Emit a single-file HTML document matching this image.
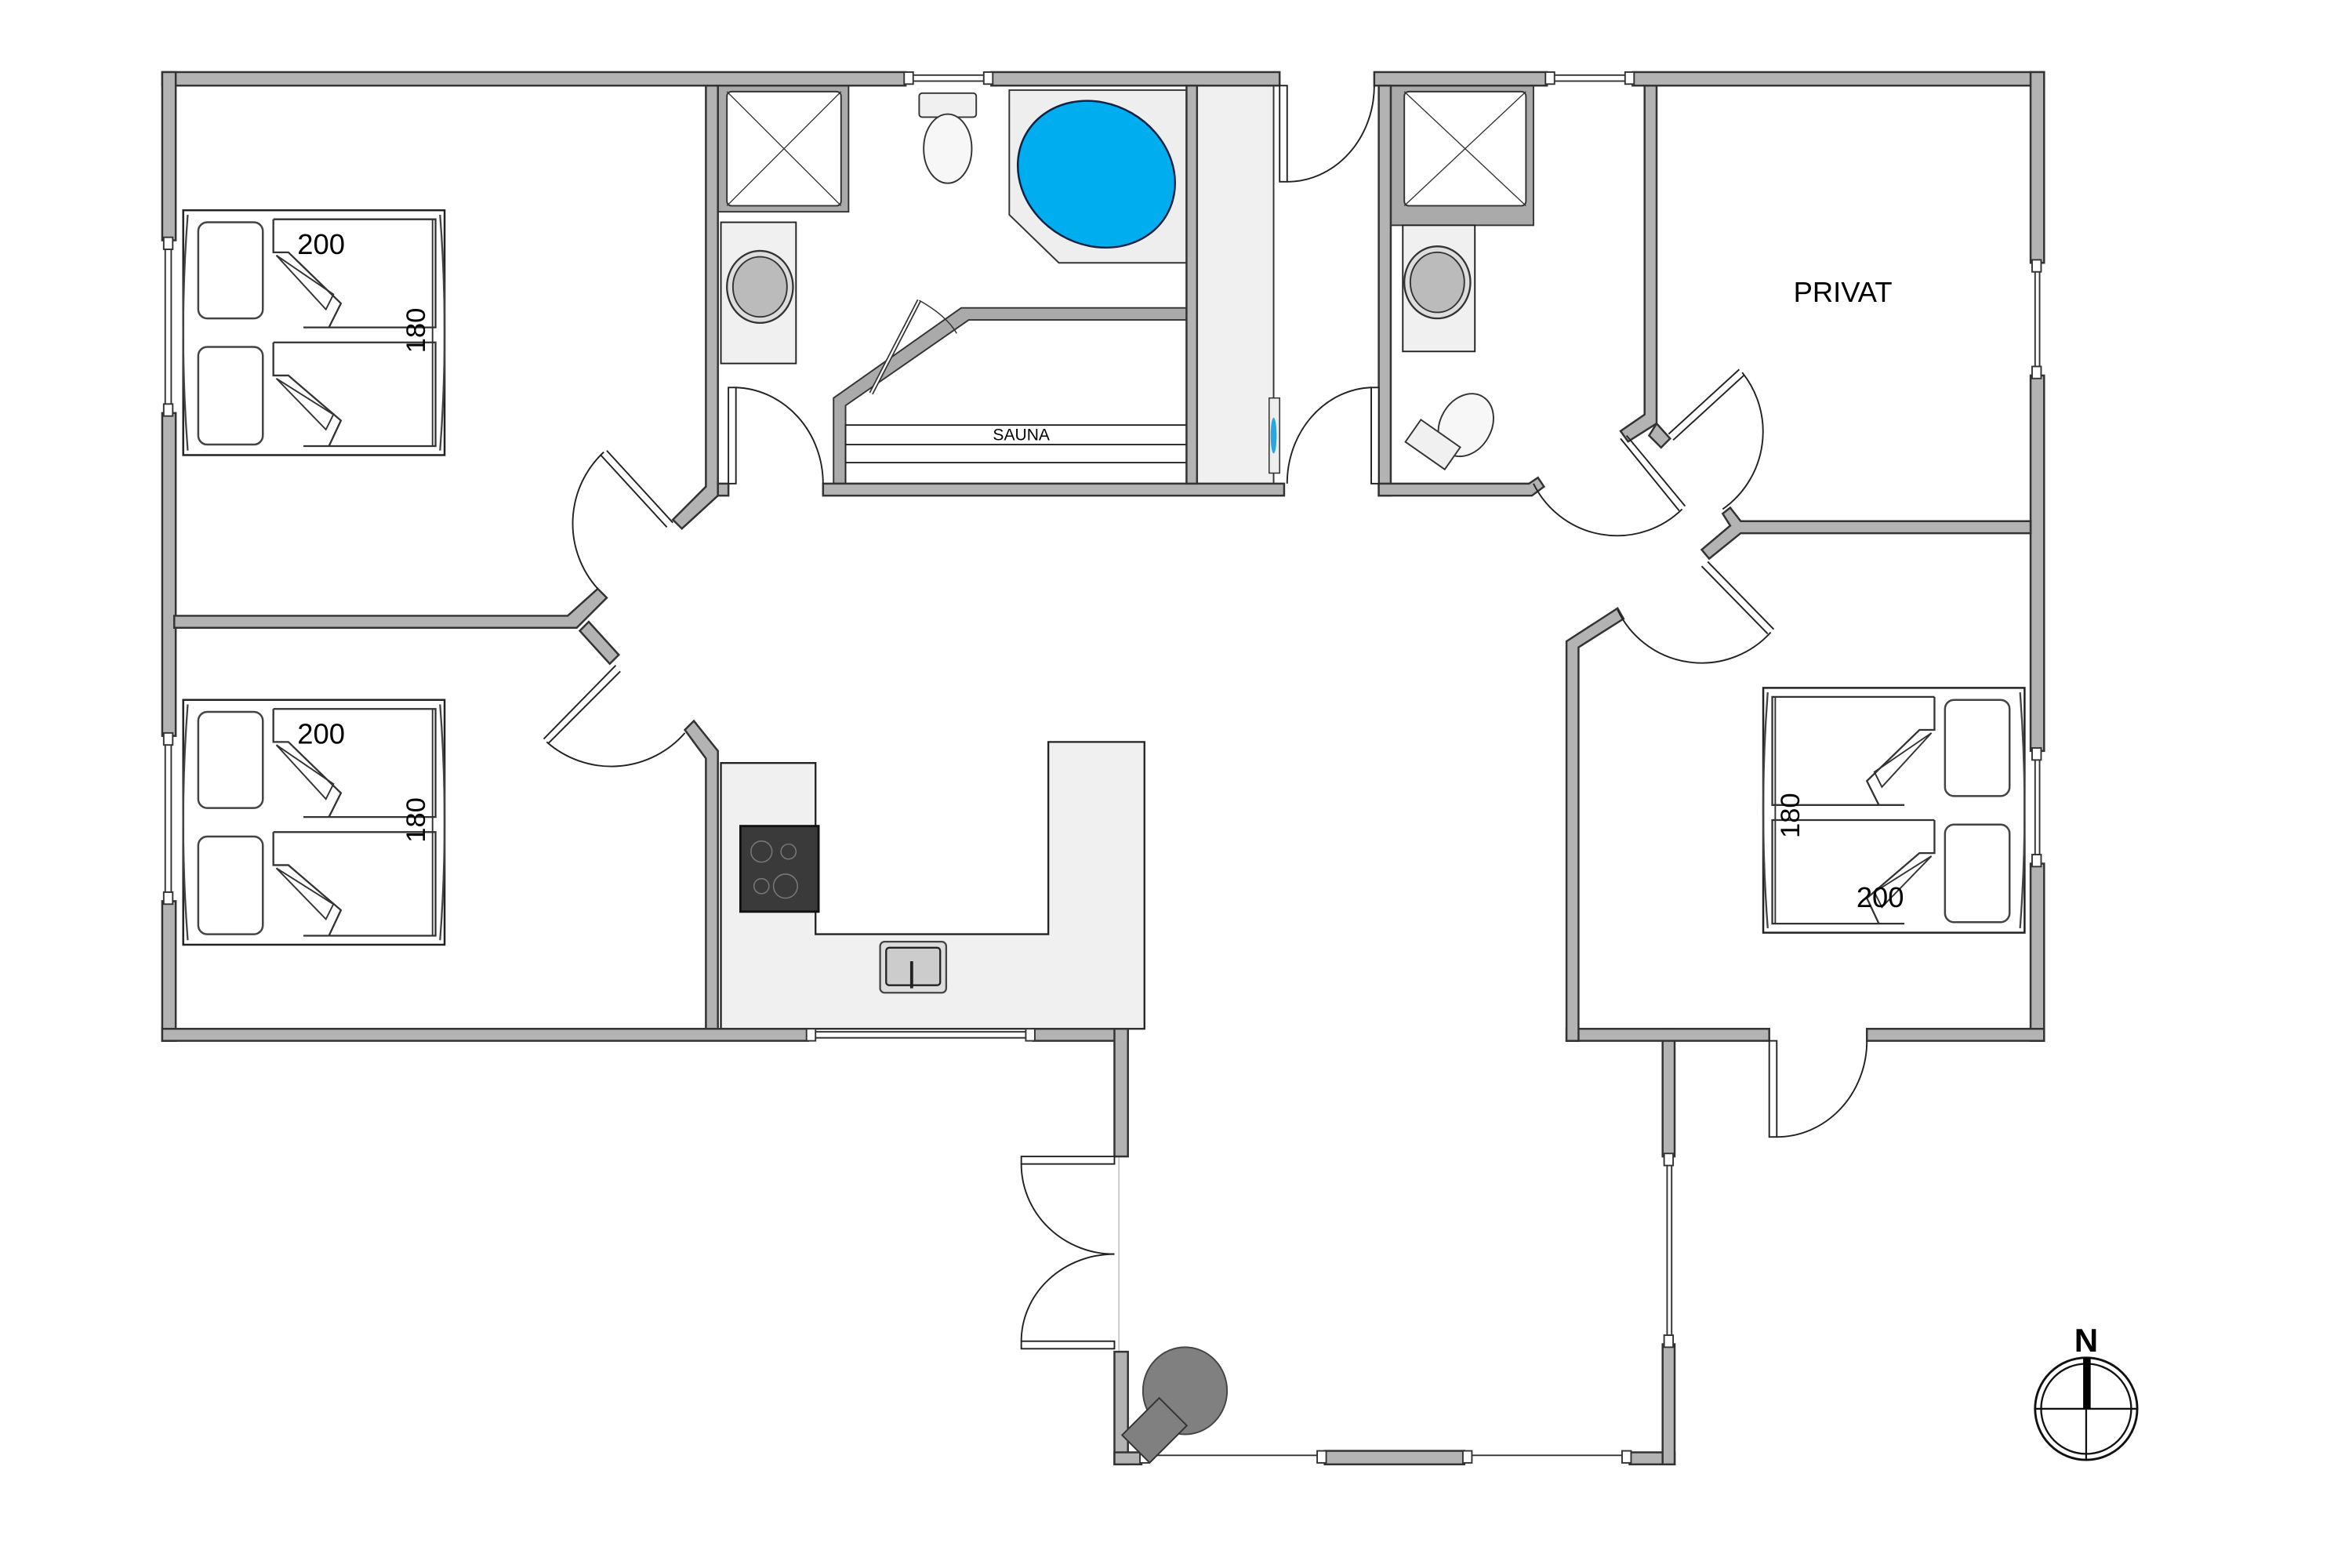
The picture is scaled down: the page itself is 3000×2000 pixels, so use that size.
<!DOCTYPE html>
<html><head><meta charset="utf-8"><style>
html,body{margin:0;padding:0;background:#fff;}
svg{display:block;}
text{font-family:"Liberation Sans",sans-serif;}
</style></head><body>
<svg width="3000" height="2000" viewBox="0 0 1566 1044" xmlns="http://www.w3.org/2000/svg">
<defs>
<g id="bed">
  <rect x="0" y="0" width="174" height="163" fill="#fff" stroke="#222" stroke-width="1.3"/>
  <path d="M171 3 Q177 81 171 160" fill="none" stroke="#444" stroke-width="1.2"/>
  <path d="M3 3 Q-3 81 3 160" fill="none" stroke="#444" stroke-width="1.2"/>
  <rect x="10" y="8" width="43" height="64" rx="6" fill="#fff" stroke="#444" stroke-width="1.3"/>
  <rect x="10" y="91" width="43" height="65" rx="6" fill="#fff" stroke="#444" stroke-width="1.3"/>
  <path d="M60 6 H168 V78 H80 M60 6 V28 L70 28 L105 62 L97 78" fill="none" stroke="#333" stroke-width="1.2"/>
  <path d="M62 30 L100 56 L95 66 Z" fill="none" stroke="#333" stroke-width="1"/>
  <path d="M60 88 H168 V157 H80 M60 88 V110 L70 110 L105 140 L97 157" fill="none" stroke="#333" stroke-width="1.2"/>
  <path d="M62 112 L100 136 L95 146 Z" fill="none" stroke="#333" stroke-width="1"/>
  <line x1="166" y1="6" x2="166" y2="157" stroke="#333" stroke-width="1"/>
</g>
<rect id="jh" x="-3" y="-4" width="6" height="8" fill="#fff" stroke="#333" stroke-width="1"/>
</defs>

<rect x="797" y="57" width="51" height="265" fill="#f0f0f0" stroke="#333" stroke-width="1"/>
<polygon points="480,508 543,508 543,622 698,622 698,494 762,494 762,685 480,685" fill="#f0f0f0" stroke="#222" stroke-width="1.2"/>
<rect x="493" y="550" width="52" height="57" fill="#3a3a3a" stroke="#111" stroke-width="1.5"/>
<circle cx="507" cy="567" r="7" fill="none" stroke="#777" stroke-width="0.8"/>
<circle cx="525" cy="567" r="5" fill="none" stroke="#777" stroke-width="0.8"/>
<circle cx="507" cy="590" r="5" fill="none" stroke="#777" stroke-width="0.8"/>
<circle cx="523" cy="590" r="8" fill="none" stroke="#777" stroke-width="0.8"/>
<rect x="586" y="627" width="44" height="34" rx="3" fill="#ddd" stroke="#444" stroke-width="1.2"/>
<rect x="590" y="631" width="36" height="25" rx="2" fill="#ccc" stroke="#222" stroke-width="1.2"/>
<line x1="607" y1="640" x2="607" y2="658" stroke="#222" stroke-width="2"/>

<use href="#bed" x="122" y="140"/>
<use href="#bed" x="122" y="466"/>
<g transform="translate(1348,458) scale(-1,1)"><use href="#bed" x="0" y="0"/></g>
<text x="198" y="169" font-size="19">200</text>
<text x="198" y="495" font-size="19">200</text>
<text x="1236" y="604" font-size="19">200</text>
<text transform="translate(283,235) rotate(-90)" font-size="18">180</text>
<text transform="translate(283,561) rotate(-90)" font-size="18">180</text>
<text transform="translate(1198,558) rotate(-90)" font-size="18">180</text>

<rect x="478" y="57" width="87" height="84" fill="#aaa" stroke="#333" stroke-width="1"/>
<rect x="484" y="61" width="76" height="76" rx="3" fill="#fff" stroke="#333" stroke-width="1"/>
<path d="M484 61 L560 137 M560 61 L484 137" stroke="#333" stroke-width="0.7"/>
<rect x="480" y="148" width="50" height="94" fill="#f0f0f0" stroke="#222" stroke-width="1"/>
<ellipse cx="506" cy="191" rx="22" ry="24" fill="#ddd" stroke="#333" stroke-width="1.2"/>
<ellipse cx="506" cy="191" rx="18" ry="20" fill="#bbb" stroke="#333" stroke-width="1"/>
<rect x="612" y="62" width="38" height="16" rx="2" fill="#f0f0f0" stroke="#333" stroke-width="1"/>
<ellipse cx="631" cy="99" rx="16" ry="23" fill="#f7f7f7" stroke="#333" stroke-width="1"/>
<polygon points="672,60 790,60 790,175 705,175 672,143" fill="#eee" stroke="#333" stroke-width="1"/>
<ellipse cx="730" cy="116" rx="54" ry="47" transform="rotate(30 730 116)" fill="#00aeef" stroke="#124" stroke-width="1.3"/>
<polygon points="555,265 640,205 790,205 790,213 645,213 563,270 563,322 555,322" fill="#aaa" stroke="#333" stroke-width="1"/>
<rect x="563" y="283" width="227" height="39" fill="#fff" stroke="#222" stroke-width="1"/>
<line x1="563" y1="296" x2="790" y2="296" stroke="#222" stroke-width="1"/>
<line x1="563" y1="308" x2="790" y2="308" stroke="#222" stroke-width="1"/>
<text x="680" y="293" font-size="11" text-anchor="middle">SAUNA</text>
<line x1="612" y1="200" x2="580" y2="262" stroke="#333" stroke-width="3"/>
<line x1="612" y1="200" x2="580" y2="262" stroke="#fff" stroke-width="1.2"/>
<path d="M612 200 Q630 210 637 222" fill="none" stroke="#333" stroke-width="0.8"/>

<rect x="926" y="57" width="95" height="93" fill="#aaa" stroke="#333" stroke-width="1"/>
<rect x="935" y="61" width="81" height="76" rx="3" fill="#fff" stroke="#333" stroke-width="1"/>
<path d="M935 61 L1016 137 M1016 61 L935 137" stroke="#333" stroke-width="0.7"/>
<rect x="934" y="150" width="48" height="84" fill="#f0f0f0" stroke="#222" stroke-width="1"/>
<ellipse cx="957" cy="188" rx="22" ry="24" fill="#ddd" stroke="#333" stroke-width="1.2"/>
<ellipse cx="957" cy="188" rx="18" ry="20" fill="#bbb" stroke="#333" stroke-width="1"/>
<ellipse cx="976" cy="283" rx="17" ry="22" transform="rotate(30 976 283)" fill="#f7f7f7" stroke="#333" stroke-width="1"/>
<rect x="938" y="287" width="32" height="18" transform="rotate(35 954 296)" fill="#f0f0f0" stroke="#333" stroke-width="1"/>
<rect x="845" y="265" width="7" height="50" fill="#eee" stroke="#333" stroke-width="0.8"/>
<ellipse cx="848" cy="290" rx="2" ry="12" fill="#29a8e0"/>

<text x="1227" y="201" font-size="19" text-anchor="middle">PRIVAT</text>

<g stroke="#333" stroke-width="1" fill="none">
<line x1="603" y1="50" x2="660" y2="50"/><line x1="603" y1="54" x2="660" y2="54"/>
<line x1="1030" y1="50" x2="1087" y2="50"/><line x1="1030" y1="54" x2="1087" y2="54"/>
<line x1="110" y1="160" x2="110" y2="275"/><line x1="114" y1="160" x2="114" y2="275"/>
<line x1="110" y1="490" x2="110" y2="600"/><line x1="114" y1="490" x2="114" y2="600"/>
<line x1="1355" y1="175" x2="1355" y2="250"/><line x1="1358" y1="175" x2="1358" y2="250"/>
<line x1="1355" y1="500" x2="1355" y2="575"/><line x1="1358" y1="500" x2="1358" y2="575"/>
<line x1="538" y1="687" x2="688" y2="687"/><line x1="538" y1="691" x2="688" y2="691"/>
<line x1="745" y1="770" x2="745" y2="900" stroke="#ccc"/>
<line x1="760" y1="969" x2="882" y2="969"/><line x1="975" y1="969" x2="1085" y2="969"/>
<line x1="1110" y1="770" x2="1110" y2="895"/><line x1="1113" y1="770" x2="1113" y2="895"/>
</g>

<g fill="#b3b3b3" stroke="#333" stroke-width="1.3">
<rect x="108" y="48" width="495" height="9"/>
<rect x="660" y="48" width="192" height="9"/>
<rect x="915" y="48" width="115" height="9"/>
<rect x="1087" y="48" width="274" height="9"/>
<rect x="108" y="48" width="9" height="112"/>
<rect x="108" y="275" width="9" height="215"/>
<rect x="108" y="600" width="9" height="93"/>
<rect x="1352" y="48" width="9" height="127"/>
<rect x="1352" y="250" width="9" height="250"/>
<rect x="1352" y="575" width="9" height="118"/>
<rect x="108" y="685" width="430" height="8"/>
<rect x="688" y="685" width="63" height="8"/>
<rect x="742" y="685" width="9" height="85"/>
<rect x="742" y="900" width="9" height="75"/>
<rect x="742" y="967" width="18" height="8"/>
<rect x="882" y="966" width="93" height="9"/>
<rect x="1085" y="967" width="30" height="8"/>
<rect x="1107" y="685" width="8" height="85"/>
<rect x="1107" y="895" width="8" height="80"/>
<rect x="1043" y="685" width="135" height="8"/>
<rect x="1243" y="685" width="118" height="8"/>
<polygon points="1043,427 1077,405 1081,412 1051,431 1051,693 1043,693"/>
<polygon points="116,410 378,410 398,392 404,398 384,418 116,418"/>
<polygon points="386,420 392,414 412,436 406,442"/>
<polygon points="470,57 478,57 478,330 454,352 448,346 470,324"/>
<polygon points="456,486 462,480 478,500 478,685 470,685 470,505"/>
<rect x="478" y="322" width="7" height="8"/>
<rect x="548" y="322" width="307" height="8"/>
<rect x="790" y="57" width="7" height="265"/>
<rect x="918" y="57" width="8" height="273"/>
<polygon points="918,322 1018,322 1024,318 1028,324 1020,330 918,330"/>
<polygon points="1095,57 1103,57 1103,282 1084,294 1079,287 1095,276"/>
<polygon points="1103,282 1112,292 1106,298 1098,290"/>
<polygon points="1159,347 1352,347 1352,355 1159,355 1138,372 1133,366 1152,350 1147,342 1152,338"/>
</g>

<!-- window jambs -->
<use href="#jh" x="605" y="52"/><use href="#jh" x="658" y="52"/>
<use href="#jh" x="1032" y="52"/><use href="#jh" x="1085" y="52"/>
<use href="#jh" x="112" y="162"/><use href="#jh" x="112" y="273"/>
<use href="#jh" x="112" y="492"/><use href="#jh" x="112" y="598"/>
<use href="#jh" x="1356" y="177"/><use href="#jh" x="1356" y="248"/>
<use href="#jh" x="1356" y="502"/><use href="#jh" x="1356" y="573"/>
<use href="#jh" x="540" y="689"/><use href="#jh" x="686" y="689"/>
<use href="#jh" x="1111" y="772"/><use href="#jh" x="1111" y="893"/>
<use href="#jh" x="762" y="970"/><use href="#jh" x="880" y="970"/>
<use href="#jh" x="977" y="970"/><use href="#jh" x="1083" y="970"/>

<g fill="none" stroke="#222" stroke-width="1">
<rect x="485" y="258" width="5" height="64" fill="#fff"/>
<path d="M490 258 A60 64 0 0 1 548 322"/>
<rect x="913" y="258" width="5" height="64" fill="#fff"/>
<path d="M913 258 A58 64 0 0 0 857 322"/>
<rect x="852" y="57" width="5" height="64" fill="#fff"/>
<path d="M857 121 A58 64 0 0 0 915 57"/>
<rect x="1178" y="693" width="5" height="64" fill="#fff"/>
<path d="M1183 757 A60 64 0 0 0 1243 693"/>
<rect x="680" y="770" width="62" height="5" fill="#fff"/>
<path d="M680 775 A62 60 0 0 0 742 835"/>
<rect x="680" y="893" width="62" height="5" fill="#fff"/>
<path d="M680 893 A62 58 0 0 1 742 835"/>
<line x1="448" y1="348" x2="404" y2="300"/><line x1="444" y1="351" x2="400" y2="303"/>
<path d="M402 301 A65 65 0 0 0 398 392"/>
<line x1="410" y1="443" x2="362" y2="492"/><line x1="413" y1="447" x2="365" y2="495"/>
<path d="M364 494 A65 65 0 0 0 456 488"/>
<line x1="1079" y1="292" x2="1118" y2="340"/><line x1="1083" y1="290" x2="1122" y2="337"/>
<path d="M1120 339 A62 62 0 0 1 1021 322"/>
<line x1="1111" y1="289" x2="1158" y2="246"/><line x1="1114" y1="293" x2="1161" y2="250"/>
<path d="M1160 248 A63 63 0 0 1 1147 339"/>
<line x1="1133" y1="377" x2="1177" y2="422"/><line x1="1137" y1="374" x2="1181" y2="419"/>
<path d="M1179 421 A62 62 0 0 1 1077 406"/>
</g>

<ellipse cx="789" cy="926" rx="28" ry="29" fill="#808080" stroke="#444" stroke-width="1"/>
<rect x="756" y="935" width="26" height="35" transform="rotate(45 769 952)" fill="#808080" stroke="#333" stroke-width="1"/>

<text x="1389" y="900" font-size="22" font-weight="bold" text-anchor="middle">N</text>
<circle cx="1389" cy="938" r="34" fill="none" stroke="#111" stroke-width="1.5"/>
<circle cx="1389" cy="938" r="30" fill="none" stroke="#111" stroke-width="1.2"/>
<line x1="1355" y1="938" x2="1423" y2="938" stroke="#111" stroke-width="1.2"/>
<line x1="1389" y1="938" x2="1389" y2="972" stroke="#111" stroke-width="1.2"/>
<rect x="1387" y="904" width="5" height="34" fill="#000"/>
</svg>
</body></html>
